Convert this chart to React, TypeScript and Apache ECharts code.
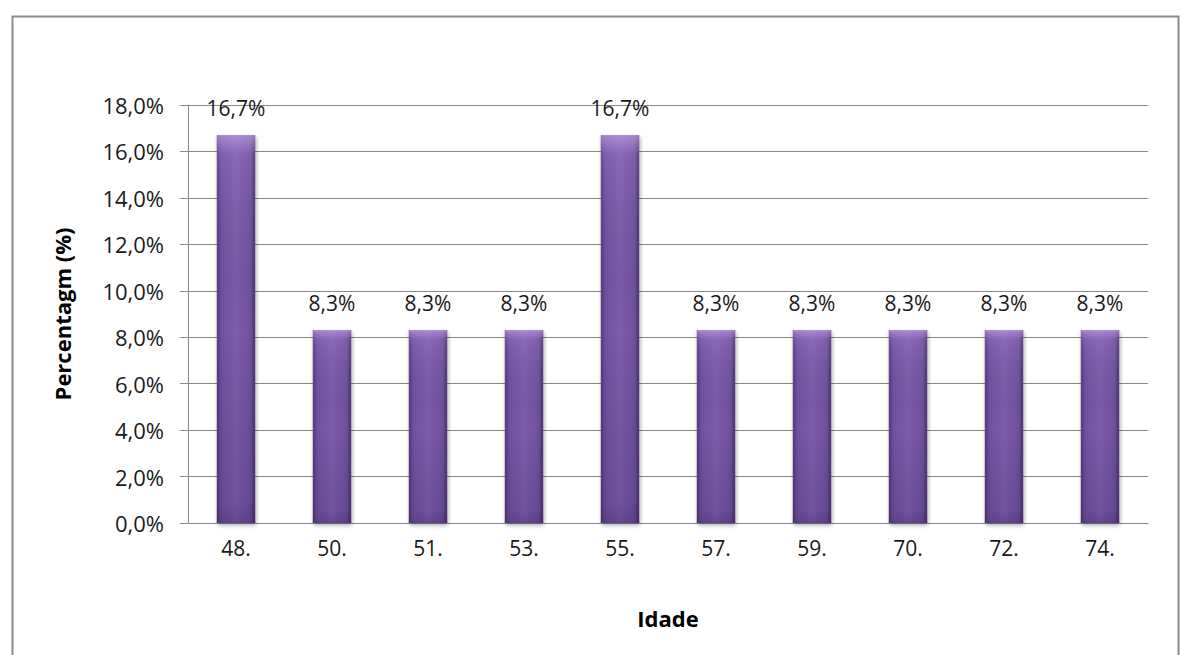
import React, { useEffect, useRef } from "react";
import * as echarts from "echarts";

const categories = ["48.", "50.", "51.", "53.", "55.", "57.", "59.", "70.", "72.", "74."];
const values = [16.7, 8.3, 8.3, 8.3, 16.7, 8.3, 8.3, 8.3, 8.3, 8.3];
const yMax = 18;
const yInterval = 2;

const fmt = (v: number) => v.toFixed(1).replace(".", ",") + "%";

export default function App() {
  const ref = useRef<HTMLDivElement>(null);
  useEffect(() => {
    document.body.style.margin = "0";
    const chart = echarts.init(ref.current!, null, { renderer: "svg" });
    const font = "'Open Sans', sans-serif";
    chart.setOption({
      animation: false,
      backgroundColor: "#ffffff",
      graphic: [
        {
          type: "rect",
          left: 10,
          top: 14,
          shape: { x: 0, y: 0, width: 1166, height: 660 },
          style: { fill: "none", stroke: "#8c8c8c", lineWidth: 2 },
          silent: true,
        },
      ],
      grid: { left: 188, right: 33, top: 105, bottom: 132 },
      xAxis: {
        type: "category",
        data: categories,
        name: "Idade",
        nameLocation: "middle",
        nameGap: 84,
        nameTextStyle: { fontFamily: font, fontSize: 22, fontWeight: "bold", color: "#000" },
        axisLine: { show: true, lineStyle: { color: "#888888", width: 1 } },
        axisTick: { show: false },
        axisLabel: { fontFamily: font, fontSize: 21, color: "#1a1a1a", margin: 14 },
      },
      yAxis: {
        type: "value",
        min: 0,
        max: yMax,
        interval: yInterval,
        name: "Percentagm (%)",
        nameLocation: "middle",
        nameGap: 115,
        nameRotate: 90,
        nameTextStyle: { fontFamily: font, fontSize: 22, fontWeight: "bold", color: "#000" },
        axisLine: { show: true, lineStyle: { color: "#888888", width: 1 } },
        axisTick: { show: true, inside: false, length: 8, lineStyle: { color: "#888888" } },
        splitLine: { show: true, lineStyle: { color: "#888888", width: 1 } },
        axisLabel: {
          fontFamily: font,
          fontSize: 22,
          color: "#1a1a1a",
          margin: 24,
          formatter: (v: number) => fmt(v),
        },
      },
      series: [
        {
          type: "bar",
          data: values,
          barWidth: "40%",
          itemStyle: {
            color: new echarts.graphic.LinearGradient(0, 0, 1, 0, [
              { offset: 0, color: "#553b78" },
              { offset: 0.12, color: "#7150a0" },
              { offset: 0.5, color: "#7e5dad" },
              { offset: 0.88, color: "#7150a0" },
              { offset: 1, color: "#4a3369" },
            ]),
            shadowColor: "rgba(0,0,0,0.35)",
            shadowBlur: 4,
            shadowOffsetX: 1,
            shadowOffsetY: 2,
          },
          label: {
            show: true,
            position: "top",
            distance: 17,
            fontFamily: font,
            fontSize: 21,
            color: "#1a1a1a",
            formatter: (p: any) => fmt(p.value),
          },
        },
        {
          type: "bar",
          data: values,
          barWidth: "40%",
          barGap: "-100%",
          silent: true,
          itemStyle: {
            color: new echarts.graphic.LinearGradient(0, 0, 0, 1, [
              { offset: 0, color: "rgba(200,170,240,0.6)" },
              { offset: 0.05, color: "rgba(200,170,240,0.15)" },
              { offset: 0.5, color: "rgba(0,0,0,0)" },
              { offset: 0.94, color: "rgba(40,20,70,0.15)" },
              { offset: 1, color: "rgba(40,20,70,0.3)" },
            ]),
          },
        },
      ],
    });
    return () => chart.dispose();
  }, []);
  return <div ref={ref} style={{ width: 1181, height: 655 }} />;
}
